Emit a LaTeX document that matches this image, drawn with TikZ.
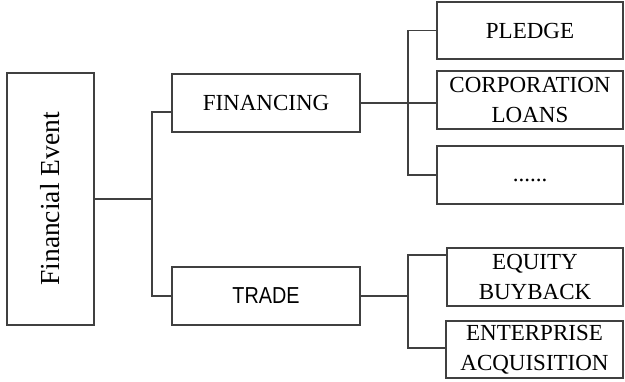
\documentclass[tikz,border=0pt]{standalone}
\usepackage{fontspec}
\setmainfont{Liberation Serif}
\newfontfamily\tradefont{Liberation Sans}
\begin{document}
\begin{tikzpicture}[x=1pt,y=-1pt,
  box/.style={draw=black!75,line width=1.2pt,rectangle,inner sep=0pt,align=center,
    text=black,font=\fontsize{23}{29.5}\selectfont},
  link/.style={draw=black!75,line width=1.2pt}]
\useasboundingbox (0,0) rectangle (625,381);

% root
\node[box,minimum width=87,minimum height=252] (fe) at (50.5,199)
  {\rotatebox{90}{\fontsize{27.5}{33}\selectfont Financial Event}};

% second level
\node[box,minimum width=188,minimum height=58] (fin) at (266,103) {FINANCING};
\node[box,minimum width=188,minimum height=58] (trade) at (266,296)
  {\tradefont\fontsize{22}{26}\selectfont\scalebox{0.9}[1.05]{TRADE}};

% financing leaves
\node[box,minimum width=186,minimum height=57] (pledge) at (530,30.5) {PLEDGE};
\node[box,minimum width=186,minimum height=58] (corp) at (530,100) {CORPORATION\\LOANS};
\node[box,minimum width=186,minimum height=58] (more) at (530,175)
  {\raisebox{-6pt}[0pt][0pt]{......}};

% trade leaves
\node[box,minimum width=176,minimum height=58] (equity) at (535,277) {EQUITY\\BUYBACK};
\node[box,minimum width=177,minimum height=57] (ent) at (534.5,349.5) {ENTERPRISE\\ACQUISITION};

% junction columns
\coordinate (jl) at (152,199);
\coordinate (jf) at (408,103);
\coordinate (jt) at (408,296);

% root to second level
\draw[link] (fe.east) -- (fe.east -| jl);
\draw[link] ([yshift=-9pt]fin.west) -| (jl |- trade.west) -- (trade.west);

% financing branch
\draw[link] (fin.east) -- (fin.east -| corp.west);
\draw[link] (pledge.west) -| (jf) |- (more.west);

% trade branch
\draw[link] (trade.east) -- (jt);
\draw[link] ([yshift=22pt]equity.west) -| (jt) |- ([yshift=1.5pt]ent.west);
\end{tikzpicture}
\end{document}
